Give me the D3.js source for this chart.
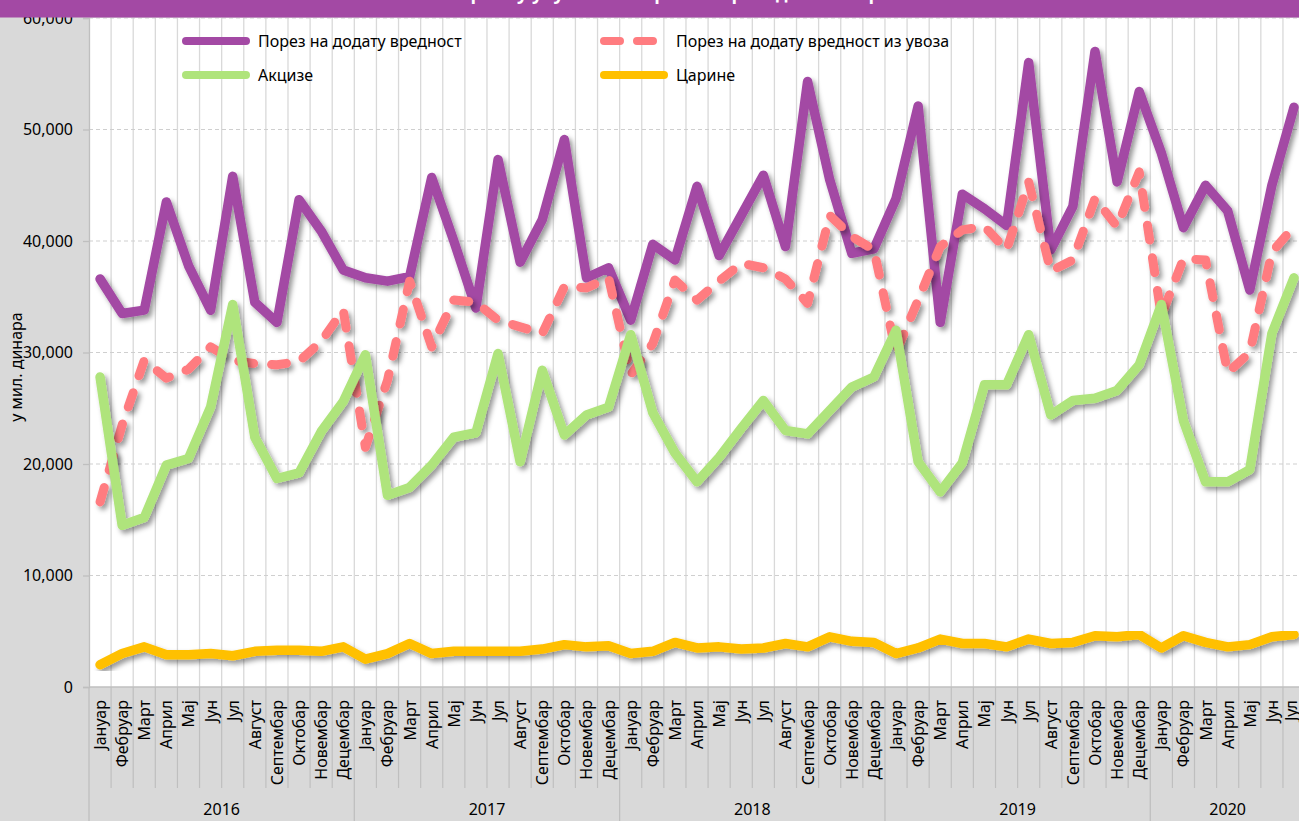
<!DOCTYPE html>
<html><head><meta charset="utf-8">
<script src="https://cdn.jsdelivr.net/npm/d3@7"></script>
<style>
html,body{margin:0;padding:0;background:#d9d9d9;overflow:hidden;}
svg{display:block;font-family:"Noto Sans","Open Sans",sans-serif;}
</style></head>
<body>
<svg id="chart" width="1299" height="821"></svg>
<script>
const years = ["2016","2017","2018","2019","2020"];
const monthNames = ["Јануар","Фебруар","Март","Април","Мај","Јун","Јул","Август","Септембар","Октобар","Новембар","Децембар"];
const yTicks = [0,10000,20000,30000,40000,50000,60000];
const seriesNames = ["Порез на додату вредност","Порез на додату вредност из увоза","Акцизе","Царине"];

const pdv = [36600,33500,33800,43500,37800,33800,45800,34500,32700,43700,40900,37400,
  36700,36400,36800,45700,40000,34000,47300,38100,41900,49100,36700,37600,
  32900,39700,38300,44900,38700,42300,45900,39500,54300,45500,38900,39300,
  43800,52100,32700,44200,42900,41400,56000,39200,43100,57000,45300,53400,
  47900,41200,45000,42700,35600,45000,52000];
const pdvUvoz = [16600,23500,29300,27700,28500,30500,29300,29000,28900,29200,31000,33800,
  21500,27500,36400,30500,34700,34500,32900,32300,31700,35900,35800,36700,
  28000,30800,36500,34700,36400,38000,37600,36600,34400,42300,40400,39200,
  30000,34700,39500,41000,41300,39200,45300,37300,38300,43800,41300,46200,
  33300,38400,38300,28200,30000,39000,41300];
const akcize = [27800,14500,15200,19900,20500,25100,34300,22400,18700,19200,22900,25600,
  29800,17200,17900,19900,22400,22800,29900,20200,28400,22600,24400,25100,
  31600,24600,21000,18400,20600,23200,25700,23000,22700,24800,26900,27800,
  32000,20200,17500,20100,27100,27100,31600,24400,25700,25900,26600,28900,
  34300,23900,18400,18400,19500,31700,36700];
const carine = [2000,3000,3600,2900,2900,3000,2800,3200,3300,3300,3200,3600,
  2500,3000,3900,3000,3200,3200,3200,3200,3400,3800,3600,3700,
  3000,3200,4000,3500,3600,3400,3500,3900,3600,4500,4100,4000,
  3000,3500,4300,3900,3900,3600,4300,3900,4000,4600,4500,4700,
  3500,4600,4000,3600,3800,4500,4700];

const n = pdv.length;
const cats = d3.range(n).map(i => ({i, month: monthNames[i % 12], year: years[Math.floor(i/12)]}));

const svg = d3.select("#chart");
const W = 1299, H = 821;
const pLeft = 89, pTop = 18, pBottom = 687;
const bandW = 22.11;
const pRight = pLeft + n * bandW;

const x = d3.scaleBand().domain(d3.range(n)).range([pLeft, pRight]).paddingInner(0).paddingOuter(0);
const y = d3.scaleLinear().domain([0, 60000]).range([pBottom, pTop]);
const cx = i => x(i) + x.bandwidth()/2;
const edge = i => i >= n ? pRight : x(i);

const defs = svg.append("defs");
const f = defs.append("filter").attr("id","shadow").attr("x","-10%").attr("y","-10%").attr("width","120%").attr("height","130%");
f.append("feDropShadow").attr("dx",3).attr("dy",3.5).attr("stdDeviation",2.5).attr("flood-color","#000").attr("flood-opacity",0.4);
defs.append("clipPath").attr("id","plotclip").append("rect").attr("x",pLeft).attr("y",0).attr("width",pRight-pLeft).attr("height",pBottom);

// background
svg.append("rect").attr("width",W).attr("height",H).attr("fill","#d9d9d9");
// plot area
svg.append("rect").attr("x",pLeft).attr("y",pTop).attr("width",pRight-pLeft).attr("height",pBottom-pTop).attr("fill","#ffffff");

// vertical gridlines at category boundaries
svg.append("g").selectAll("line").data(d3.range(1,n)).join("line")
  .attr("x1",d=>x(d)).attr("x2",d=>x(d)).attr("y1",pTop).attr("y2",pBottom)
  .attr("stroke","#d9d9d9").attr("stroke-width",1.3);

// horizontal dashed gridlines
svg.append("g").selectAll("line").data(yTicks.filter(t=>t>0)).join("line")
  .attr("x1",pLeft).attr("x2",pRight).attr("y1",d=>y(d)).attr("y2",d=>y(d))
  .attr("stroke","#cfcfcf").attr("stroke-width",1.2).attr("stroke-dasharray","4,3");

// y axis
const yAxis = d3.axisLeft(y).tickValues(yTicks).tickSize(6).tickPadding(10).tickFormat(d3.format(","));
const ya = svg.append("g").attr("transform",`translate(${pLeft},0)`).call(yAxis);
ya.select(".domain").attr("stroke","#bfbfbf").attr("stroke-width",1.3);
ya.selectAll(".tick line").attr("stroke","#bfbfbf").attr("stroke-width",1.3);
ya.selectAll(".tick text").attr("font-size",16).attr("fill","#000").attr("font-family","Noto Sans");

svg.append("text").attr("transform","translate(22,367) rotate(-90)")
  .attr("text-anchor","middle").attr("font-size",16).attr("fill","#000").text("у мил. динара");

// x axis line
svg.append("line").attr("x1",pLeft).attr("x2",pRight).attr("y1",pBottom).attr("y2",pBottom)
  .attr("stroke","#bfbfbf").attr("stroke-width",1.3);

// month tick lines
svg.append("g").selectAll("line").data(d3.range(1,n).filter(i=>i%12!==0)).join("line")
  .attr("x1",d=>x(d)).attr("x2",d=>x(d)).attr("y1",pBottom).attr("y2",788)
  .attr("stroke","#bfbfbf").attr("stroke-width",1.2);
// year separators
svg.append("g").selectAll("line").data(d3.range(0,n,12)).join("line")
  .attr("x1",d=>x(d)).attr("x2",d=>x(d)).attr("y1",pBottom).attr("y2",H)
  .attr("stroke","#bfbfbf").attr("stroke-width",1.3);

// month labels
svg.append("g").selectAll("text").data(cats).join("text")
  .attr("transform",d=>`translate(${Math.min(cx(d.i)+6, W-2)},700) rotate(-90)`)
  .attr("text-anchor","end").attr("font-size",16).attr("fill","#000")
  .text(d=>d.month);

// year labels
svg.append("g").selectAll("text").data(years).join("text")
  .attr("x",(d,k)=> (edge(k*12) + edge((k+1)*12)) / 2)
  .attr("y",815).attr("text-anchor","middle").attr("font-size",16).attr("fill","#000").text(d=>d);

// lines
const line = d3.line().x((d,i)=>cx(i)).y(d=>y(d)).curve(d3.curveLinear);
const lg = svg.append("g").attr("clip-path","url(#plotclip)");
const styles = [
  {data:pdv, color:"#a349a4", w:9.5, dash:null},
  {data:pdvUvoz, color:"#ff7c80", w:9, dash:"15,18"},
  {data:akcize, color:"#afe47b", w:9.5, dash:null},
  {data:carine, color:"#ffc000", w:9.5, dash:null}
];
styles.forEach(s=>{
  lg.append("path").datum(s.data).attr("d",line).attr("fill","none")
    .attr("stroke",s.color).attr("stroke-width",s.w).attr("stroke-linejoin","round")
    .attr("stroke-linecap","round").attr("stroke-dasharray",s.dash).attr("filter","url(#shadow)");
});

// legend
const legendItems = [
  {name:seriesNames[0], s:styles[0], x:182, y:41},
  {name:seriesNames[1], s:styles[1], x:600, y:41},
  {name:seriesNames[2], s:styles[2], x:182, y:75},
  {name:seriesNames[3], s:styles[3], x:600, y:75}
];
const leg = svg.append("g");
legendItems.forEach(it=>{
  leg.append("line").attr("x1",it.x+4).attr("x2",it.x+64).attr("y1",it.y).attr("y2",it.y)
    .attr("stroke",it.s.color).attr("stroke-width",8).attr("stroke-linecap","round")
    .attr("stroke-dasharray",it.s.dash ? "16,17" : null);
  leg.append("text").attr("x",it.x+76).attr("y",it.y+6).attr("font-size",16).attr("fill","#000").text(it.name);
});

// title bar (cut off at top)
svg.append("rect").attr("x",0).attr("y",0).attr("width",W).attr("height",17.5).attr("fill","#a349a4");
svg.append("text").attr("x",650).attr("y",0).attr("text-anchor","middle").attr("font-size",18)
  .attr("font-weight","bold").attr("fill","#fff").text("Наплата пореза у укупно оствареним приходима по врстама");
</script>
</body></html>
